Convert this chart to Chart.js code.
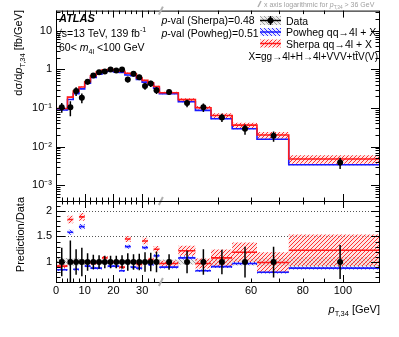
<!DOCTYPE html>
<html>
<head>
<meta charset="utf-8">
<script src="https://cdn.jsdelivr.net/npm/chart.js@4/dist/chart.umd.min.js"></script>
<style>
  html, body { margin: 0; padding: 0; background: #fff; }
  #wrap { position: relative; width: 399px; height: 337px; }
  #wrap canvas { position: absolute; left: 0; top: 0; }
</style>
</head>
<body>
<div id="wrap">
  <canvas id="main" width="399" height="337"></canvas>
  <canvas id="ratio" width="399" height="337"></canvas>
</div>
<script>
// bins in pT,34 [GeV]; linear up to 36, log above
const binEdges = [0, 4, 6, 8, 10, 12, 14, 16, 18, 20, 22, 24, 26, 28, 30, 32, 34, 36, 40, 44, 48, 54, 62, 74, 123];

// measured dsigma/dpT [fb/GeV]
const dataVals = [0.105, 0.105, 0.275, 0.186, 0.48, 0.70, 0.85, 0.89, 1.0, 0.94, 1.0, 0.55, 0.77, 0.63, 0.37, 0.43, 0.29, 0.26, 0.135, 0.105, 0.057, 0.029, 0.019, 0.0039];
const dataErr = [0.28, 0.42, 0.25, 0.28, 0.17, 0.14, 0.13, 0.12, 0.12, 0.12, 0.13, 0.17, 0.15, 0.16, 0.19, 0.18, 0.2, 0.15, 0.22, 0.25, 0.24, 0.3, 0.3, 0.33];
const dataSyst = [0.08, 0.08, 0.07, 0.06, 0.04, 0.04, 0.04, 0.04, 0.04, 0.04, 0.04, 0.04, 0.04, 0.04, 0.04, 0.04, 0.05, 0.05, 0.05, 0.05, 0.06, 0.07, 0.08, 0.1];

// predictions
const sherpaVals = [0.097, 0.192, 0.275, 0.35, 0.48, 0.686, 0.85, 0.96, 1.0, 0.94, 0.9, 0.80, 0.77, 0.60, 0.52, 0.45, 0.36, 0.25, 0.165, 0.102, 0.064, 0.036, 0.02, 0.0048];
const powhegVals = [0.089, 0.166, 0.237, 0.314, 0.44, 0.616, 0.75, 0.89, 0.92, 0.865, 0.83, 0.715, 0.69, 0.55, 0.47, 0.41, 0.325, 0.234, 0.146, 0.087, 0.053, 0.029, 0.0155, 0.0034];
const sherpaUnc = [0.04, 0.04, 0.04, 0.04, 0.035, 0.035, 0.035, 0.035, 0.035, 0.035, 0.035, 0.04, 0.04, 0.04, 0.045, 0.045, 0.05, 0.06, 0.08, 0.1, 0.15, 0.16, 0.2, 0.25];
const powhegUnc = [0.03, 0.03, 0.03, 0.03, 0.03, 0.03, 0.03, 0.03, 0.03, 0.03, 0.03, 0.03, 0.03, 0.03, 0.03, 0.03, 0.03, 0.03, 0.03, 0.03, 0.03, 0.03, 0.03, 0.03];

// prediction / data
const sherpaRatio = [0.92, 1.83, 1.0, 1.88, 1.0, 0.98, 1.0, 1.08, 1.0, 1.0, 0.9, 1.45, 1.0, 0.95, 1.41, 1.05, 1.25, 0.97, 1.22, 0.97, 1.08, 1.19, 0.99, 1.23];
const powhegRatio = [0.85, 1.58, 0.86, 1.69, 0.92, 0.88, 0.88, 1.0, 0.92, 0.92, 0.83, 1.30, 0.9, 0.88, 1.28, 0.95, 1.12, 0.9, 1.08, 0.83, 0.91, 0.97, 0.80, 0.88];

// axes
const xTicks = [0, 10, 20, 30, 60, 80, 100];
const xMajor = [0, 10, 20, 30, 100];
const xMinor = [2, 4, 6, 8, 12, 14, 16, 18, 22, 24, 26, 28, 32, 34, 40, 50, 60, 70, 80, 90];
const yMainTicks = [0.001, 0.01, 0.1, 1, 10];
const yRatioTicks = [1, 1.5, 2];

const BREAK = 36;
const LOG_UNITS = 144; // GeV-units per decade above the break

const FONT = '"Liberation Sans", Arial, Helvetica, sans-serif';
const RED = '#ff1a1a', BLUE = '#1a1aff';

class BrokenAxis extends Chart.LinearScale {
  static id = 'broken';
  static defaults = {};
  warp(v) { return v <= BREAK ? v : BREAK + LOG_UNITS * Math.log10(v / BREAK); }
  unwarp(u) { return u <= BREAK ? u : BREAK * Math.pow(10, (u - BREAK) / LOG_UNITS); }
  buildTicks() { return xTicks.map(v => ({ value: v })); }
  getPixelForValue(v) {
    const a = this.warp(this.min), b = this.warp(this.max);
    return this.getPixelForDecimal((this.warp(v) - a) / (b - a));
  }
  getValueForPixel(p) {
    const a = this.warp(this.min), b = this.warp(this.max);
    return this.unwarp(a + this.getDecimalForPixel(p) * (b - a));
  }
}
Chart.register(BrokenAxis);

function hatch(color, dir, bg) {
  const c = document.createElement('canvas');
  c.width = c.height = 4;
  const g = c.getContext('2d');
  if (bg) { g.fillStyle = bg; g.fillRect(0, 0, 4, 4); }
  g.strokeStyle = color;
  g.lineWidth = 1;
  g.beginPath();
  if (dir > 0) {
    g.moveTo(0, 4); g.lineTo(4, 0); g.moveTo(-1, 1); g.lineTo(1, -1); g.moveTo(3, 5); g.lineTo(5, 3);
  } else {
    g.moveTo(0, 0); g.lineTo(4, 4); g.moveTo(-1, 3); g.lineTo(1, 5); g.moveTo(3, -1); g.lineTo(5, 1);
  }
  g.stroke();
  return g.createPattern(c, 'repeat');
}
const redHatch = hatch('rgba(255,30,30,0.9)', 1, 'rgba(255,210,210,0.6)');
const blueHatch = hatch('rgba(30,30,255,0.9)', -1, 'rgba(215,215,255,0.6)');
const grayHatch = hatch('rgba(140,140,140,0.8)', -1, 'rgba(225,225,225,0.6)');

const centers = binEdges.slice(0, -1).map((e, i) => (e + binEdges[i + 1]) / 2);

// histogram step points: one per bin low edge, plus closing edge
function stepPts(vals, f) {
  const pts = vals.map((v, i) => ({ x: binEdges[i], y: f(v, i) }));
  pts.push({ x: binEdges[binEdges.length - 1], y: f(vals[vals.length - 1], vals.length - 1) });
  return pts;
}
// separate horizontal segments (ratio panel)
function segPts(vals) {
  const pts = [];
  vals.forEach((v, i) => {
    pts.push({ x: binEdges[i], y: v }, { x: binEdges[i + 1], y: v }, { x: binEdges[i + 1], y: null });
  });
  return pts;
}
function errPts(vals, errs) {
  const pts = [];
  vals.forEach((v, i) => {
    pts.push({ x: centers[i], y: v * (1 - errs[i]) }, { x: centers[i], y: v * (1 + errs[i]) }, { x: centers[i], y: null });
  });
  return pts;
}

// 'before' keeps each value flat until the next edge, then steps
const band = (data, fill, bg) => ({
  data, fill, backgroundColor: bg, borderWidth: 0, pointRadius: 0, stepped: 'before', spanGaps: false
});
const lineDs = (data, color, width, stepped) => ({
  data, borderColor: color, borderWidth: width, pointRadius: 0, fill: false, stepped, spanGaps: false
});

// ---------- text helper ----------
function rich(ctx, x, y, parts, size, align) {
  const fontFor = k => {
    const s = (k === 'sub' || k === 'sup') ? size * 0.68 : size;
    const st = k === 'i' ? 'italic ' : k === 'bi' ? 'italic bold ' : '';
    return st + s + 'px ' + FONT;
  };
  let w = 0;
  parts.forEach(([t, k]) => { ctx.font = fontFor(k); w += ctx.measureText(t).width; });
  let cx = align === 'right' ? x - w : align === 'center' ? x - w / 2 : x;
  ctx.textAlign = 'left';
  ctx.textBaseline = 'alphabetic';
  parts.forEach(([t, k]) => {
    ctx.font = fontFor(k);
    const dy = k === 'sub' ? size * 0.3 : k === 'sup' ? -size * 0.42 : 0;
    ctx.fillText(t, cx, y + dy);
    cx += ctx.measureText(t).width;
  });
}

function seg(ctx, x1, y1, x2, y2) { ctx.beginPath(); ctx.moveTo(x1, y1); ctx.lineTo(x2, y2); ctx.stroke(); }

function frameAndXTicks(ctx, a, x) {
  ctx.strokeStyle = '#000';
  ctx.lineWidth = 1;
  ctx.strokeRect(a.left + 0.5, a.top + 0.5, a.right - a.left - 1, a.bottom - a.top);
  const tick = (v, len) => {
    const px = Math.round(x.getPixelForValue(v)) + 0.5;
    seg(ctx, px, a.bottom, px, a.bottom - len);
    seg(ctx, px, a.top, px, a.top + len);
  };
  xMajor.forEach(v => tick(v, 7));
  xMinor.forEach(v => tick(v, 3.5));
}

function breakMark(ctx, x, y) {
  const px = x.getPixelForValue(BREAK) + 1.5;
  ctx.strokeStyle = '#b0b0b0';
  ctx.lineWidth = 2;
  seg(ctx, px - 2, y + 4, px + 2, y - 4);
}

const mainDecor = {
  id: 'mainDecor',
  afterDraw(chart) {
    const { ctx, chartArea: a, scales: { x, y } } = chart;
    ctx.save();
    frameAndXTicks(ctx, a, x);
    for (let d = -4; d <= 1; d++) {
      for (let m = 1; m <= 9; m++) {
        const v = m * Math.pow(10, d);
        if (v < y.min || v > y.max) continue;
        const py = Math.round(y.getPixelForValue(v)) + 0.5;
        const len = m === 1 ? 9 : 4.5;
        seg(ctx, a.left, py, a.left + len, py);
        seg(ctx, a.right - len, py, a.right, py);
      }
    }
    breakMark(ctx, x, a.top);
    breakMark(ctx, x, a.bottom);

    // note above the frame
    ctx.fillStyle = '#a0a0a0';
    ctx.strokeStyle = '#b0b0b0';
    ctx.lineWidth = 1.5;
    seg(ctx, 258, 7, 261, 1);
    rich(ctx, 264, 7, [['x axis logarithmic for '], ['p', 'i'], ['T,34', 'sub'], [' > 36 GeV']], 7);

    // y title
    ctx.fillStyle = '#000';
    ctx.save();
    ctx.translate(18, 10);
    ctx.rotate(-Math.PI / 2);
    rich(ctx, 0, 4, [['dσ/d'], ['p', 'i'], ['T,34', 'sub'], [' [fb/GeV]']], 11, 'right');
    ctx.restore();

    // labels
    rich(ctx, 59, 22, [['ATLAS', 'bi']], 11);
    rich(ctx, 56, 36.5, [['√s=13 TeV, 139 fb'], ['-1', 'sup']], 10.5);
    rich(ctx, 59, 50.5, [['60< '], ['m', 'i'], ['4l', 'sub'], [' <100 GeV']], 10.5);
    rich(ctx, 161.5, 23.5, [['p', 'i'], ['-val (Sherpa)=0.48']], 10.5);
    rich(ctx, 161.5, 37, [['p', 'i'], ['-val (Powheg)=0.51']], 10.5);

    // legend
    const lx = 260, lw = 21;
    ctx.fillStyle = grayHatch; ctx.fillRect(lx, 16, lw, 9);
    ctx.strokeStyle = '#000'; ctx.lineWidth = 1.5;
    seg(ctx, lx, 20.5, lx + lw, 20.5);
    seg(ctx, lx + lw / 2, 16, lx + lw / 2, 25);
    ctx.fillStyle = '#000';
    ctx.beginPath(); ctx.arc(lx + lw / 2, 20.5, 3, 0, Math.PI * 2); ctx.fill();

    ctx.fillStyle = blueHatch; ctx.fillRect(lx, 28, lw, 8);
    ctx.strokeStyle = BLUE; seg(ctx, lx, 32, lx + lw, 32);
    ctx.fillStyle = redHatch; ctx.fillRect(lx, 39.5, lw, 8);
    ctx.strokeStyle = RED; seg(ctx, lx, 43.5, lx + lw, 43.5);

    ctx.fillStyle = '#000';
    rich(ctx, 286, 24.5, [['Data']], 10.5);
    rich(ctx, 286, 36, [['Powheg qq→4l + X']], 10.5);
    rich(ctx, 286, 47.5, [['Sherpa qq→4l + X']], 10.5);
    rich(ctx, 378, 60, [['X=gg→4l+H→4l+VVV+tt̄V(V)']], 10, 'right');
    ctx.restore();
  }
};

const ratioDecor = {
  id: 'ratioDecor',
  beforeDatasetsDraw(chart) {
    const { ctx, chartArea: a, scales: { y } } = chart;
    ctx.save();
    ctx.strokeStyle = '#555';
    ctx.lineWidth = 1;
    ctx.setLineDash([1, 2]);
    [1.5, 2].forEach(v => {
      const py = Math.round(y.getPixelForValue(v)) + 0.5;
      seg(ctx, a.left, py, a.right, py);
    });
    ctx.restore();
  },
  afterDraw(chart) {
    const { ctx, chartArea: a, scales: { x, y } } = chart;
    ctx.save();
    frameAndXTicks(ctx, a, x);
    for (let v = 0.7; v <= 2.15; v += 0.1) {
      const r = Math.round(v * 10) / 10;
      const py = Math.round(y.getPixelForValue(r)) + 0.5;
      const len = (r * 2) % 1 === 0 ? 9 : 4.5;
      seg(ctx, a.left, py, a.left + len, py);
      seg(ctx, a.right - len, py, a.right, py);
    }
    breakMark(ctx, x, a.bottom);
    ctx.fillStyle = '#000';
    ctx.save();
    ctx.translate(19.5, 197);
    ctx.rotate(-Math.PI / 2);
    rich(ctx, 0, 4, [['Prediction/Data']], 11, 'right');
    ctx.restore();
    rich(ctx, 380, 313, [['p', 'i'], ['T,34', 'sub'], [' [GeV]']], 11, 'right');
    ctx.restore();
  }
};

const tickFont = { family: FONT, size: 11 };
const xAxis = (display) => ({
  type: 'broken', min: 0, max: 123, display,
  afterFit: display ? (s => { s.height = 55; }) : undefined,
  grid: { display: false, drawTicks: false },
  border: { display: false },
  ticks: { font: tickFont, color: '#000', padding: 2, autoSkip: false, maxRotation: 0, callback: v => String(v) }
});
const supers = { '-1': '⁻¹', '-2': '⁻²', '-3': '⁻³' };

new Chart(document.getElementById('main'), {
  type: 'line',
  data: {
    datasets: [
      { data: centers.map((c, i) => ({ x: c, y: dataVals[i] })), showLine: false, pointRadius: 3, pointBackgroundColor: '#000', pointBorderWidth: 0 },
      lineDs(errPts(dataVals, dataErr), '#000', 1.5, false),
      lineDs(stepPts(sherpaVals, v => v), RED, 1.6, 'before'),
      lineDs(stepPts(powhegVals, v => v), BLUE, 1.6, 'before'),
      band(stepPts(sherpaVals, (v, i) => v * (1 + sherpaUnc[i])), false, redHatch),
      band(stepPts(sherpaVals, (v, i) => v * (1 - sherpaUnc[i])), '-1', redHatch),
      band(stepPts(powhegVals, (v, i) => v * (1 + powhegUnc[i])), false, blueHatch),
      band(stepPts(powhegVals, (v, i) => v * (1 - powhegUnc[i])), '-1', blueHatch)
    ]
  },
  options: {
    responsive: false, animation: false, devicePixelRatio: 1,
    layout: { padding: { top: 10, right: 19, bottom: 136, left: 0 } },
    plugins: { legend: { display: false }, tooltip: { enabled: false } },
    scales: {
      x: xAxis(false),
      y: {
        type: 'logarithmic', min: 3.9e-4, max: 33.5,
        afterBuildTicks: s => { s.ticks = yMainTicks.map(v => ({ value: v })); },
        afterFit: s => { s.width = 56; },
        grid: { display: false, drawTicks: false },
        border: { display: false },
        ticks: {
          font: tickFont, color: '#000', padding: 4,
          callback: v => { const e = Math.round(Math.log10(v)); return e >= 0 ? String(Math.pow(10, e)) : '10' + supers[String(e)]; }
        }
      }
    }
  },
  plugins: [mainDecor]
});

new Chart(document.getElementById('ratio'), {
  type: 'line',
  data: {
    datasets: [
      { data: centers.map(c => ({ x: c, y: 1 })), showLine: false, pointRadius: 3, pointBackgroundColor: '#000', pointBorderWidth: 0 },
      lineDs(errPts(centers.map(() => 1), dataErr), '#000', 1.5, false),
      lineDs(segPts(sherpaRatio), RED, 1.6, false),
      lineDs(segPts(powhegRatio), BLUE, 1.6, false),
      band(stepPts(sherpaRatio, (v, i) => v * (1 + sherpaUnc[i])), false, redHatch),
      band(stepPts(sherpaRatio, (v, i) => v * (1 - sherpaUnc[i])), '-1', redHatch),
      band(stepPts(powhegRatio, (v, i) => v * (1 + powhegUnc[i])), false, blueHatch),
      band(stepPts(powhegRatio, (v, i) => v * (1 - powhegUnc[i])), '-1', blueHatch),
      band(stepPts(dataSyst, s => 1 + s), false, grayHatch),
      band(stepPts(dataSyst, s => 1 - s), '-1', grayHatch)
    ]
  },
  options: {
    responsive: false, animation: false, devicePixelRatio: 1,
    layout: { padding: { top: 201, right: 19, bottom: 0, left: 0 } },
    plugins: { legend: { display: false }, tooltip: { enabled: false } },
    scales: {
      x: xAxis(true),
      y: {
        type: 'linear', min: 0.61, max: 2.19,
        afterBuildTicks: s => { s.ticks = yRatioTicks.map(v => ({ value: v })); },
        afterFit: s => { s.width = 56; },
        grid: { display: false, drawTicks: false },
        border: { display: false },
        ticks: { font: tickFont, color: '#000', padding: 4, callback: v => String(v) }
      }
    }
  },
  plugins: [ratioDecor]
});
</script>
</body>
</html>
